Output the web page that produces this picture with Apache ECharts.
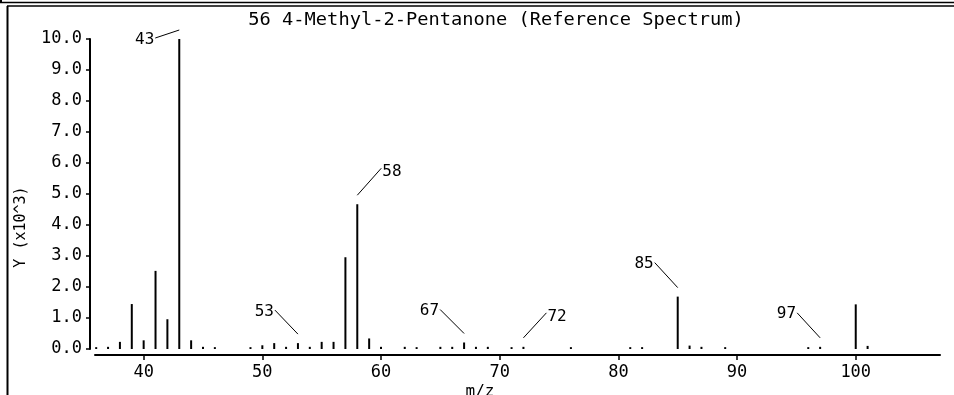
<!DOCTYPE html>
<html><head><meta charset="utf-8">
<script src="https://cdn.jsdelivr.net/npm/echarts@6/dist/echarts.min.js"></script>
<style>html,body{margin:0;padding:0;background:#fff}#c{width:954px;height:395px}</style>
</head><body><div id="c"></div>
<script>
const chartTitle = '56 4-Methyl-2-Pentanone (Reference Spectrum)';
const xAxisName = 'm/z';
const yAxisName = 'Y (x10^3)';
const mz = [36,37,38,39,40,41,42,43,44,45,46,49,50,51,52,53,54,55,56,57,58,59,60,62,63,65,66,67,68,69,71,72,76,81,82,85,86,87,89,96,97,100,101];
const intensity = [0.06,0.07,0.23,1.45,0.28,2.52,0.96,10.0,0.28,0.07,0.06,0.06,0.12,0.19,0.07,0.19,0.07,0.23,0.23,2.96,4.67,0.34,0.07,0.07,0.06,0.07,0.07,0.21,0.07,0.07,0.06,0.07,0.06,0.06,0.06,1.69,0.11,0.07,0.06,0.06,0.07,1.44,0.10];
const annotatedMz = [43,58,53,67,72,85,97];
const xTicks = [40,50,60,70,80,90,100];
const yMin = 0, yMax = 10, yStep = 1;

// layout only: leader-line offsets in pixels
const annotOffsets = [[-24,8],[24,-27],[-23,-24],[-24,-24],[23,-25],[-23,-25],[-23,-25]];

const FONT = '"DejaVu Sans Mono", monospace';
const chart = echarts.init(document.getElementById('c'), null, {renderer:'canvas'});
const option = {
  animation: false,
  backgroundColor: '#fff',
  grid: {left: 95, right: 14, top: 39, bottom: 46, containLabel: false, outerBoundsMode: 'none'},
  xAxis: {
    type: 'value', min: 35.9, max: 107.1, offset: 6,
    axisLine: {show: true, onZero: false, lineStyle: {color: '#000', width: 2}},
    axisTick: {show: true, length: 5, customValues: xTicks, lineStyle: {color: '#000', width: 1.5}},
    axisLabel: {customValues: xTicks, color: '#000', fontFamily: FONT, fontSize: 17, margin: 9},
    splitLine: {show: false}
  },
  yAxis: {
    type: 'value', min: yMin, max: yMax, interval: yStep, offset: 5,
    axisLine: {show: true, onZero: false, lineStyle: {color: '#000', width: 2}},
    axisTick: {show: true, length: 4, lineStyle: {color: '#000', width: 1.5}},
    axisLabel: {color: '#000', fontFamily: FONT, fontSize: 17, margin: 8,
      formatter: v => v.toFixed(1)},
    splitLine: {show: false}
  },
  graphic: {elements: [
    {type:'line', shape:{x1:0,y1:2.5,x2:954,y2:2.5}, style:{stroke:'#000', lineWidth:1.5}},
    {type:'line', shape:{x1:7,y1:6,x2:954,y2:6}, style:{stroke:'#000', lineWidth:1.5}},
    {type:'line', shape:{x1:1,y1:0,x2:1,y2:3}, style:{stroke:'#000', lineWidth:2}},
    {type:'line', shape:{x1:7.5,y1:6,x2:7.5,y2:395}, style:{stroke:'#000', lineWidth:2}},
    {type:'text', x:472, y:1, style:{text:xAxisName, font:'16px ' + FONT, fill:'#000',
      textAlign:'center', align:'center', textVerticalAlign:'bottom', verticalAlign:'bottom'}},
    {type:'text', x:496, y:21, scaleX:1.1, style:{text:chartTitle, font:'17px ' + FONT, fill:'#000',
      textAlign:'center', align:'center', textVerticalAlign:'middle', verticalAlign:'middle'}},
    {type:'text', x:21, y:227, rotation:Math.PI/2, style:{text:yAxisName, font:'15px ' + FONT, fill:'#000',
      textAlign:'center', align:'center', textVerticalAlign:'middle', verticalAlign:'middle'}},
    {type:'text', x:480, y:384, style:{text:xAxisName, font:'16px ' + FONT, fill:'#000',
      textAlign:'center', align:'center', textVerticalAlign:'top', verticalAlign:'top'}}
  ]},
  series: [
    {
      type: 'bar', barWidth: 2, silent: true,
      itemStyle: {color: '#000'},
      data: mz.map((m, i) => [m, intensity[i]])
    },
    {
      type: 'custom', coordinateSystem: 'cartesian2d', clip: false, silent: true, z: 5,
      encode: {x: 0, y: 1},
      data: annotatedMz.map(m => [m, intensity[mz.indexOf(m)]]),
      renderItem: (params, api) => {
        const p = api.coord([api.value(0), api.value(1)]);
        const off = annotOffsets[params.dataIndex];
        const sx = p[0], sy = p[1] - 9;
        const ex = sx + off[0], ey = sy + off[1];
        const left = off[0] < 0;
        return {type: 'group', children: [
          {type: 'line', shape: {x1: sx, y1: sy, x2: ex, y2: ey}, style: {stroke: '#000', lineWidth: 1}},
          {type: 'text', x: left ? ex - 1 : ex + 1, y: ey + (left ? 1.5 : 4),
            style: {text: String(api.value(0)), font: '16px ' + FONT, fill: '#000',
              align: left ? 'right' : 'left', verticalAlign: 'middle'}}
        ]};
      }
    }
  ]
};
chart.setOption(option);
</script>
</body></html>
